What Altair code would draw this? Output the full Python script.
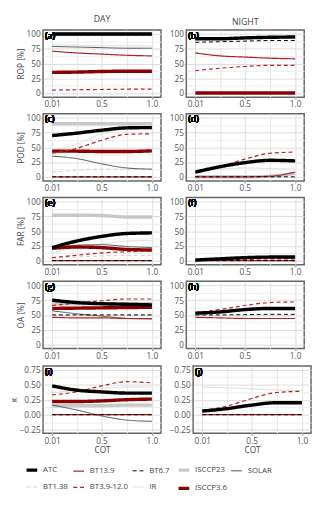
import altair as alt
import pandas as pd

COT = [0.01, 0.25, 0.5, 0.75, 1.0]

SERIES = ["ATC", "BT13.9", "BT6.7", "ISCCP23", "SOLAR",
          "BT1.38", "BT3.9-12.0", "IR", "ISCCP3.6"]
COLORS = ["#000000", "#b22222", "#000000", "#c8c8c8", "#4d4d4d",
          "#cfcfcf", "#b22222", "#d9d9d9", "#8b0000"]
DASHES = [[1, 0], [1, 0], [4, 3], [1, 0], [1, 0],
          [4, 3], [4, 3], [1, 0], [1, 0]]
WIDTHS = [3.5, 1.2, 1.0, 3.5, 1.0, 1.0, 1.2, 1.0, 3.5]
DRAW_ORDER = ["ISCCP23", "IR", "BT1.38", "SOLAR", "ISCCP3.6",
              "BT13.9", "BT3.9-12.0", "ATC", "BT6.7"]

ROP_DAY = {
    "ISCCP23": [100, 100, 100, 100, 100],
    "IR": [82, 81, 80, 80, 80],
    "SOLAR": [79, 78, 77, 76, 76],
    "ISCCP3.6": [35, 35.5, 36.5, 37, 37],
    "BT13.9": [71, 68, 66, 64, 63],
    "BT3.9-12.0": [5, 5.5, 6, 6.5, 6.5],
    "ATC": [100, 100, 100, 100, 100],
    "BT6.7": [98.5, 98.5, 98.5, 98.5, 98.5],
}
ROP_NIGHT = {
    "IR": [69, 64, 61, 60, 59],
    "ISCCP3.6": [0, 0, 0, 0, 0],
    "BT13.9": [68, 63, 61, 59, 58],
    "BT3.9-12.0": [38, 42, 45, 47, 47],
    "ATC": [92, 92, 93.5, 94.5, 95],
    "BT6.7": [86, 87, 88, 89, 89],
}
POD_DAY = {
    "ISCCP23": [90, 90, 90, 90, 90],
    "IR": [45, 55, 73, 82, 85],
    "BT1.38": [8, 11, 13, 13, 13],
    "SOLAR": [35, 31, 22, 15, 13],
    "ISCCP3.6": [43.5, 43.5, 43, 43, 44],
    "BT13.9": [0, 0, 0, 0, 0],
    "BT3.9-12.0": [40, 48, 62, 72, 73],
    "ATC": [70, 74, 79, 83, 83.5],
    "BT6.7": [0, 0, 0, 0, 0],
}
POD_NIGHT = {
    "ISCCP23": [0, 0, 0, 1, 6],
    "IR": [8, 13, 15, 14, 13],
    "BT13.9": [0, 0, 0, 1, 8],
    "BT3.9-12.0": [8, 17, 30, 40, 42],
    "ATC": [8, 17, 24, 28, 27],
    "BT6.7": [0, 0, 0, 0, 0],
}
FAR_DAY = {
    "ISCCP23": [77, 77, 76.5, 74, 74],
    "IR": [13, 22, 28, 33, 34],
    "BT1.38": [4, 6, 8, 9, 9],
    "SOLAR": [19, 26, 27, 24, 22],
    "ISCCP3.6": [21, 23, 22, 19, 18],
    "BT13.9": [0, 0, 0, 0, 0],
    "BT3.9-12.0": [5, 9, 13, 15, 16],
    "ATC": [22, 33, 41, 46, 47],
    "BT6.7": [0, 0, 0, 0, 0],
}
FAR_NIGHT = {
    "IR": [2, 3, 5, 6, 6],
    "BT13.9": [0, 0, 0, 0, 0],
    "BT3.9-12.0": [0, 1, 2, 3, 3],
    "ATC": [1, 3, 5, 6, 6],
    "BT6.7": [0, 0, 0, 0, 0],
}
OA_DAY = {
    "ISCCP23": [69, 69, 69, 69, 69],
    "IR": [49, 49, 49, 49, 49],
    "BT1.38": [50, 50, 50, 50, 50],
    "SOLAR": [57, 52, 48, 44, 43],
    "ISCCP3.6": [61, 61.5, 62, 62.5, 63],
    "BT13.9": [46, 45, 45, 44, 44],
    "BT3.9-12.0": [66, 70, 74, 77, 77],
    "ATC": [75, 71, 69, 68, 67],
    "BT6.7": [50, 50, 50, 50, 50],
}
OA_NIGHT = {
    "IR": [49, 49, 49, 49, 49],
    "BT13.9": [46, 45, 44, 44, 44],
    "BT3.9-12.0": [54, 59, 66, 71, 72],
    "ATC": [53, 55, 59, 61, 61],
    "BT6.7": [50, 50, 50.5, 51, 51],
}
K_DAY = {
    "ISCCP23": [0.15, 0.15, 0.15, 0.16, 0.16],
    "IR": [0.37, 0.40, 0.44, 0.46, 0.46],
    "BT1.38": [0.13, 0.14, 0.15, 0.15, 0.15],
    "SOLAR": [0.16, 0.08, -0.02, -0.09, -0.11],
    "ISCCP3.6": [0.22, 0.22, 0.23, 0.25, 0.26],
    "BT13.9": [0, 0, 0, 0, 0],
    "BT3.9-12.0": [0.33, 0.38, 0.48, 0.55, 0.53],
    "ATC": [0.48, 0.41, 0.38, 0.36, 0.36],
    "BT6.7": [0, 0, 0, 0, 0],
}
K_NIGHT = {
    "IR": [0.46, 0.45, 0.43, 0.41, 0.40],
    "BT13.9": [0, 0, 0, 0, 0],
    "BT3.9-12.0": [0.07, 0.14, 0.27, 0.37, 0.39],
    "ATC": [0.06, 0.10, 0.16, 0.20, 0.20],
    "BT6.7": [0, 0, 0, 0, 0],
}

PCT_TICKS = [0, 12.5, 25, 37.5, 50, 62.5, 75, 87.5, 100]
K_TICKS = [-0.25, -0.125, 0, 0.125, 0.25, 0.375, 0.5, 0.625, 0.75]
X_TICKS = [0.01, 0.255, 0.5, 0.75, 1.0]

FONT = "Open Sans"
W, H = 121, 69

X_MAJOR = "datum.value == 0.01 || datum.value == 0.5 || datum.value == 1"
PCT_MAJOR = "datum.value % 25 == 0"
K_MAJOR = "abs(datum.value * 4 - round(datum.value * 4)) < 0.001"


def frame(d):
    rows = []
    for s in DRAW_ORDER:
        if s in d:
            for c, v in zip(COT, d[s]):
                rows.append({"series": s, "cot": c, "value": v})
    return pd.DataFrame(rows)


LEGEND = alt.Legend(
    orient="none", legendX=-19, legendY=444, direction="horizontal",
    columns=5, title=None, symbolType="stroke",
    symbolSize=121, labelFontSize=8, labelFont=FONT, labelColor="#444",
    columnPadding=2, rowPadding=4, labelOffset=4, padding=0,
    gridAlign="each",
)


def panel(d, letter, ytitle, kappa, left, bottom, coltitle):
    df = frame(d)
    if kappa:
        ydom, yvals, major, fmt = [-0.31, 0.81], K_TICKS, K_MAJOR, "'.2f'"
    else:
        ydom, yvals, major, fmt = [-7, 107], PCT_TICKS, PCT_MAJOR, "'d'"
    x = alt.X(
        "cot:Q",
        scale=alt.Scale(domain=[-0.08, 1.09], nice=False, zero=False),
        axis=alt.Axis(
            values=X_TICKS, title="COT" if bottom else None,
            labelExpr="datum.value == 0.01 ? '0.01' : datum.value == 0.5 ? '0.5' : datum.value == 1 ? '1.0' : ''",
            gridColor={"condition": {"test": X_MAJOR, "value": "#dddddd"}, "value": "#e6e6e6"},
            tickOpacity={"condition": {"test": X_MAJOR, "value": 1}, "value": 0},
        ),
    )
    y = alt.Y(
        "value:Q",
        scale=alt.Scale(domain=ydom, nice=False, zero=False),
        axis=alt.Axis(
            values=yvals, title=ytitle if left else None,
            labelExpr=f"{major} ? format(datum.value, {fmt}) : ''",
            gridColor={"condition": {"test": major, "value": "#dddddd"}, "value": "#eeeeee"},
            tickOpacity={"condition": {"test": major, "value": 1}, "value": 0},
        ),
    )
    lines = alt.Chart(df).mark_line(interpolate="monotone").encode(
        x=x, y=y,
        color=alt.Color("series:N", scale=alt.Scale(domain=SERIES, range=COLORS), legend=LEGEND),
        strokeDash=alt.StrokeDash("series:N", scale=alt.Scale(domain=SERIES, range=DASHES), legend=LEGEND),
        strokeWidth=alt.StrokeWidth("series:N", scale=alt.Scale(type="ordinal", domain=SERIES, range=WIDTHS), legend=LEGEND),
    )
    label = alt.Chart(df).mark_text(
        align="left", baseline="top", fontSize=9, font=FONT, color="#000"
    ).encode(x=alt.value(2), y=alt.value(2), text=alt.value(letter))
    props = dict(width=W, height=H)
    if coltitle:
        props["title"] = alt.TitleParams(coltitle)
    return alt.layer(lines, label).properties(**props)


rows = [
    (ROP_DAY, ROP_NIGHT, "(a)", "(b)", "ROP [%]", False),
    (POD_DAY, POD_NIGHT, "(c)", "(d)", "POD [%]", False),
    (FAR_DAY, FAR_NIGHT, "(e)", "(f)", "FAR [%]", False),
    (OA_DAY, OA_NIGHT, "(g)", "(h)", "OA [%]", False),
    (K_DAY, K_NIGHT, "(i)", "(j)", "κ", True),
]

hrows = []
for i, (dd, dn, la, lb, yt, kap) in enumerate(rows):
    first, last = i == 0, i == len(rows) - 1
    hrows.append(alt.hconcat(
        panel(dd, la, yt, kap, True, last, "DAY" if first else None),
        panel(dn, lb, yt, kap, False, last, "NIGHT" if first else None),
        spacing=6,
    ))

chart = alt.vconcat(*hrows, spacing=3).properties(padding=0).configure_view(
    stroke="#666666", strokeWidth=1.5
).configure_axis(
    labelFont=FONT, labelFontSize=8.5, labelColor="#555555",
    titleFont=FONT, titleFontSize=8.5, titleFontWeight="normal", titleColor="#444444",
    tickSize=2, tickColor="#888888", labelPadding=1, titlePadding=1, domain=False,
).configure_title(
    font=FONT, fontSize=9, fontWeight="normal", color="#444444", offset=3
)

chart.save("out.html", embed_options={"renderer": "svg", "actions": False})
